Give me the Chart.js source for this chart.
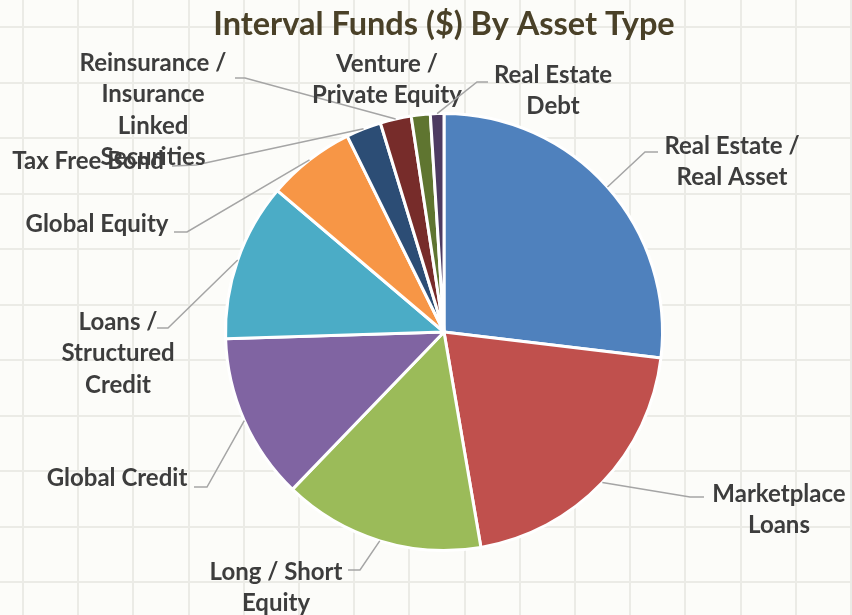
<!DOCTYPE html>
<html>
<head>
<meta charset="utf-8">
<title>Interval Funds ($) By Asset Type</title>
<script src="https://cdn.jsdelivr.net/npm/chart.js@4/dist/chart.umd.min.js"></script>
<style>
  html, body { margin: 0; padding: 0; background: #fcfcf9; }
  canvas { display: block; }
</style>
</head>
<body>
<canvas id="myChart" width="852" height="615"></canvas>
<script>
const chartTitle = 'Interval Funds ($) By Asset Type';
// asset types, clockwise from 12 o'clock
let assetTypes = [
    'Real Estate / Real Asset',
    'Marketplace Loans',
    'Long / Short Equity',
    'Global Credit',
    'Loans / Structured Credit',
    'Global Equity',
    'Tax Free Bond',
    'Reinsurance / Insurance Linked Securities',
    'Venture / Private Equity',
    'Real Estate Debt'
];
// share of interval fund assets ($)
let fundAssets = [26.9, 20.4, 14.9, 12.3, 11.7, 6.5, 2.6, 2.3, 1.4, 1.0];
// how each label is wrapped
let labelLines = [
    ['Real Estate /', 'Real Asset'],
    ['Marketplace', 'Loans'],
    ['Long / Short', 'Equity'],
    ['Global Credit'],
    ['Loans /', 'Structured', 'Credit'],
    ['Global Equity'],
    ['Tax Free Bond'],
    ['Reinsurance /', 'Insurance', 'Linked', 'Securities'],
    ['Venture /', 'Private Equity'],
    ['Real Estate', 'Debt']
];

let sliceColors = ['#4F81BD', '#C0504D', '#9BBB59', '#8064A2', '#4BACC6',
                   '#F79646', '#2C4D75', '#772C2A', '#5F7530', '#4D3B62'];

// where each label sits (x = text centre, y = first line) and its leader elbow / end
let labelPlace = [
    { x: 732, y: 146, elbow: [645, 152], end: [658, 152] },
    { x: 779, y: 494, elbow: [690, 497], end: [704, 497] },
    { x: 276, y: 572, elbow: [360, 570], end: [348, 570] },
    { x: 117, y: 478, elbow: [207, 487], end: [194, 487] },
    { x: 118, y: 322, elbow: [168, 328], end: [157, 328] },
    { x: 97,  y: 224, elbow: [187, 232], end: [174, 232] },
    { x: 88,  y: 161, elbow: [196, 165], end: [172, 166] },
    { x: 153, y: 63,  elbow: [245, 78],  end: [235, 78] },
    { x: 387, y: 64,  elbow: null, end: null },
    { x: 553, y: 75,  elbow: [477, 82],  end: [488, 82] }
];

const FONT = 'Lato, "Open Sans", sans-serif';

// off-white sheet with faint cell grid behind the chart
const sheetGrid = {
    id: 'sheetGrid',
    beforeDraw(chart) {
        const ctx = chart.ctx;
        ctx.save();
        ctx.fillStyle = '#fcfcf9';
        ctx.fillRect(0, 0, chart.width, chart.height);
        ctx.strokeStyle = '#ebebe6';
        ctx.lineWidth = 2;
        ctx.beginPath();
        for (let x = 23; x < chart.width + 2; x += 55.2) {
            ctx.moveTo(Math.round(x), 0);
            ctx.lineTo(Math.round(x), chart.height);
        }
        for (let y = 27; y < chart.height + 2; y += 55.5) {
            ctx.moveTo(0, Math.round(y));
            ctx.lineTo(chart.width, Math.round(y));
        }
        ctx.stroke();
        ctx.restore();
    }
};

// title plus outside labels with leader lines
const outsideLabels = {
    id: 'outsideLabels',
    afterDatasetsDraw(chart) {
        const ctx = chart.ctx;
        const arcs = chart.getDatasetMeta(0).data;
        ctx.save();
        ctx.textAlign = 'center';
        ctx.textBaseline = 'middle';
        ctx.fillStyle = '#4a4128';
        ctx.font = 'bold 32.5px ' + FONT;
        ctx.fillText(chartTitle, (chart.chartArea.left + chart.chartArea.right) / 2, 25);

        arcs.forEach((arc, i) => {
            const p = arc.getProps(['x', 'y', 'startAngle', 'endAngle', 'outerRadius']);
            const mid = (p.startAngle + p.endAngle) / 2;
            const place = labelPlace[i];
            if (place.elbow) {
                ctx.strokeStyle = '#a5a5a5';
                ctx.lineWidth = 1.5;
                ctx.beginPath();
                ctx.moveTo(p.x + Math.cos(mid) * p.outerRadius, p.y + Math.sin(mid) * p.outerRadius);
                ctx.lineTo(place.elbow[0], place.elbow[1]);
                ctx.lineTo(place.end[0], place.end[1]);
                ctx.stroke();
            }
            ctx.fillStyle = '#3d3d3d';
            ctx.font = 'bold 24px ' + FONT;
            labelLines[i].forEach((line, k) => {
                ctx.fillText(line, place.x, place.y + k * 31.5);
            });
        });
        ctx.restore();
    }
};

var ctx = document.getElementById('myChart').getContext('2d');
var chart = new Chart(ctx, {
    type: 'pie',
    data: {
        labels: assetTypes,
        datasets: [{
            data: fundAssets,
            backgroundColor: sliceColors,
            borderColor: '#ffffff',
            borderWidth: 3
        }]
    },
    options: {
        responsive: false,
        animation: false,
        devicePixelRatio: 1,
        layout: { padding: { left: 224, right: 188, top: 112, bottom: 63 } },
        plugins: {
            legend: { display: false },
            tooltip: { enabled: false },
            title: { display: false }
        }
    },
    plugins: [sheetGrid, outsideLabels]
});
</script>
</body>
</html>
